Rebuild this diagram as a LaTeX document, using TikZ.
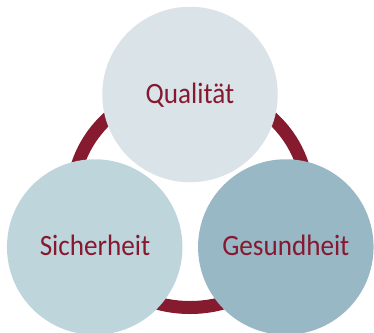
\documentclass[tikz,border=0pt]{standalone}
\usepackage{fontspec}
\setmainfont{Carlito}[FakeStretch=0.92]
\definecolor{ringred}{HTML}{861A2E}
\definecolor{textred}{HTML}{86192F}
\definecolor{topfill}{HTML}{DAE3E8}
\definecolor{leftfill}{HTML}{BED5DC}
\definecolor{rightfill}{HTML}{98B8C5}
\tikzset{
  bubble/.style={circle, draw=none, minimum size=175.5pt, inner sep=0pt},
  lbl/.style={anchor=base, text=textred, inner sep=0pt, font=\fontsize{29.5}{32}\selectfont}
}
\begin{document}
\begin{tikzpicture}[x=1pt,y=-1pt]
\useasboundingbox (0,0) rectangle (374,332);
\draw[ringred, line width=13pt] (190,197) ellipse [x radius=117.5, y radius=110.5];
\node[bubble, fill=topfill] (q) at (190,94.5) {};
\node[bubble, fill=leftfill] (s) at (94.7,247) {};
\node[bubble, fill=rightfill] (g) at (285.8,247) {};
\node[lbl] (ql) at (190,103.3) {Qualität};
\node[lbl] (sl) at (95,255.7) {Sicherheit};
\node[lbl] (gl) at (285.8,255.7) {Gesundheit};
\end{tikzpicture}
\end{document}
